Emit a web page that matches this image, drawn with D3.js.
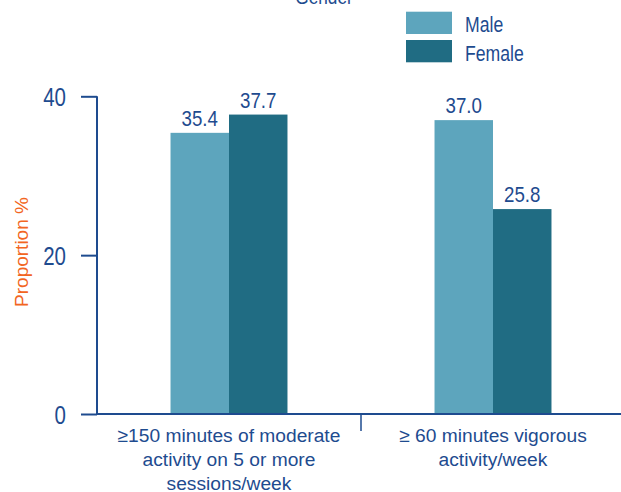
<!DOCTYPE html>
<html>
<head>
<meta charset="utf-8">
<script src="https://cdn.jsdelivr.net/npm/d3@7"></script>
<style>
  html, body { margin: 0; padding: 0; background: #fff; }
  svg { display: block; }
  text { font-family: "Liberation Sans", Arial, sans-serif; }
</style>
</head>
<body>
<svg id="chart" width="621" height="492"></svg>
<script>
// Physical activity by gender
const categories = [
  ["\u2265150 minutes of moderate", "activity on 5 or more", "sessions/week"],
  ["\u2265 60 minutes vigorous", "activity/week"]
];
const categoryKeys = ["moderate", "vigorous"];
const series = ["Male", "Female"];
const maleValues = [35.4, 37.0];
const femaleValues = [37.7, 25.8];
const yTicks = [0, 20, 40];
const legendTitle = "Gender";
const yTitle = "Proportion %";

const ink = "#1e4b8f";
const colors = { Male: "#5da5bd", Female: "#206c83" };
const narrow = 0.82; // horizontal squeeze for a condensed look

const rows = categoryKeys.map((k, i) => ({
  key: k,
  lines: categories[i],
  values: [
    { s: "Male", v: maleValues[i] },
    { s: "Female", v: femaleValues[i] }
  ]
}));

const svg = d3.select("#chart");
const plotLeft = 97, plotBottom = 414, plotTop = 96.3;

const y = d3.scaleLinear().domain([0, 40]).range([plotBottom, plotTop]);
const x0 = d3.scaleBand().domain(categoryKeys).range([97, 625])
  .paddingInner(0.557).paddingOuter(0.2785);
const x1 = d3.scaleBand().domain(series).range([0, x0.bandwidth()]);

// bars
const groups = svg.append("g").selectAll("g").data(rows).join("g")
  .attr("transform", d => `translate(${x0(d.key)},0)`);

groups.selectAll("rect").data(d => d.values).join("rect")
  .attr("x", d => x1(d.s))
  .attr("width", x1.bandwidth())
  .attr("y", d => y(d.v))
  .attr("height", d => y(0) - y(d.v))
  .attr("fill", d => colors[d.s]);

groups.selectAll("text.val").data(d => d.values).join("text")
  .attr("class", "val")
  .attr("transform", d => `translate(${x1(d.s) + x1.bandwidth() / 2},${y(d.v) - 7}) scale(0.87,1)`)
  .attr("text-anchor", "middle")
  .attr("fill", ink)
  .attr("font-size", 21.5)
  .text(d => d.v.toFixed(1));

// y axis
const yAxis = svg.append("g").attr("transform", `translate(${plotLeft},0)`)
  .call(d3.axisLeft(y).tickValues(yTicks).tickSize(16).tickFormat(d3.format("d")));
yAxis.select(".domain").attr("stroke", ink).attr("stroke-width", 2)
  .attr("d", `M0,${plotTop}V${plotBottom}`);
yAxis.selectAll(".tick line").attr("stroke", ink).attr("stroke-width", 2);
yAxis.selectAll(".tick text")
  .attr("x", 0).attr("dy", null)
  .attr("transform", `translate(-31,9.5) scale(${narrow},1)`)
  .attr("fill", ink).attr("font-size", 25)
  .attr("font-family", "Liberation Sans, Arial, sans-serif");

// x axis
svg.append("line")
  .attr("x1", plotLeft - 1).attr("x2", 621)
  .attr("y1", plotBottom).attr("y2", plotBottom)
  .attr("stroke", ink).attr("stroke-width", 2);

// divider tick between categories
const mid = (x0(categoryKeys[0]) + x0.bandwidth() / 2 + x0(categoryKeys[1]) + x0.bandwidth() / 2) / 2;
svg.append("line")
  .attr("x1", mid).attr("x2", mid)
  .attr("y1", plotBottom).attr("y2", plotBottom + 17)
  .attr("stroke", ink).attr("stroke-width", 1.5);

// category labels
rows.forEach(r => {
  const cx = x0(r.key) + x0.bandwidth() / 2;
  const t = svg.append("text")
    .attr("text-anchor", "middle")
    .attr("fill", ink)
    .attr("font-size", 19.2);
  r.lines.forEach((line, i) => {
    t.append("tspan").attr("x", cx).attr("y", 441.7 + i * 24.3).text(line);
  });
});

// y axis title
svg.append("text")
  .attr("transform", "translate(28,252) rotate(-90)")
  .attr("text-anchor", "middle")
  .attr("fill", "#f26522")
  .attr("font-size", 19)
  .text(yTitle);

// legend
svg.append("text")
  .attr("transform", `translate(324,4) scale(${narrow},1)`)
  .attr("text-anchor", "middle")
  .attr("fill", ink)
  .attr("font-size", 21)
  .text(legendTitle);

const legend = svg.append("g").selectAll("g").data(series).join("g")
  .attr("transform", (d, i) => `translate(406,${11.7 + i * 28.3})`);
legend.append("rect")
  .attr("width", 46).attr("height", 22.3)
  .attr("fill", d => colors[d]);
legend.append("text")
  .attr("transform", `translate(59,20.6) scale(${narrow},1)`)
  .attr("fill", ink)
  .attr("font-size", 21.5)
  .text(d => d);
</script>
</body>
</html>
